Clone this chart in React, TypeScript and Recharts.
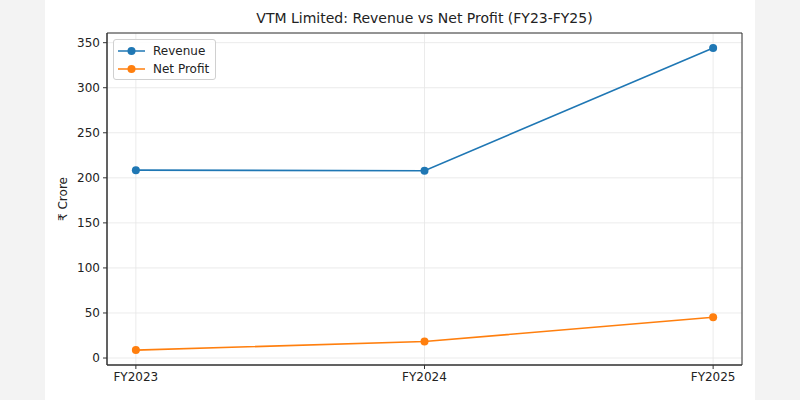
import React from "react";
import {
  LineChart,
  Line,
  XAxis,
  YAxis,
  CartesianGrid,
  ReferenceArea,
} from "recharts";

const categories = ["FY2023", "FY2024", "FY2025"];
const revenue = [208.5, 207.9, 344.2];
const netProfit = [8.8, 18.3, 45.2];
const yTicks = [0, 50, 100, 150, 200, 250, 300, 350];

const data = categories.map((c, i) => ({
  idx: i,
  name: c,
  revenue: revenue[i],
  netProfit: netProfit[i],
}));

const FONT = "'DejaVu Sans', sans-serif";
const BLUE = "#1f77b4";
const ORANGE = "#ff7f0e";

const xMin = -0.1;
const xMax = 2.1;
const yMin = -7.75;
const yMax = 360.75;

const LegendBox = () => (
  <div
    style={{
      position: "absolute",
      left: 113,
      top: 39,
      border: "1px solid #d0d0d0",
      borderRadius: 3,
      background: "rgba(255,255,255,0.85)",
      width: 103,
      height: 41,
      boxSizing: "border-box",
      fontFamily: FONT,
      fontSize: 12,
      color: "#222",
      padding: "2px 0 0 3px",
    }}
  >
    {[
      { label: "Revenue", color: BLUE },
      { label: "Net Profit", color: ORANGE },
    ].map((e) => (
      <div
        key={e.label}
        style={{ display: "flex", alignItems: "center", height: 18 }}
      >
        <svg width={30} height={12} style={{ marginRight: 6 }}>
          <line x1={1} y1={6} x2={28} y2={6} stroke={e.color} strokeWidth={1.5} />
          <circle cx={14.5} cy={6} r={4} fill={e.color} />
        </svg>
        <span>{e.label}</span>
      </div>
    ))}
  </div>
);

export default function App() {
  return (
    <div
      style={{
        position: "absolute",
        left: 0,
        top: 0,
        width: 800,
        height: 400,
        background: "#f3f3f3",
      }}
    >
      <div
        style={{
          position: "absolute",
          left: 45,
          top: 0,
          width: 710,
          height: 400,
          background: "#ffffff",
        }}
      />
      <div
        style={{
          position: "absolute",
          left: 0,
          top: 10,
          width: 849,
          textAlign: "center",
          fontFamily: FONT,
          fontSize: 14,
          color: "#222",
        }}
      >
        VTM Limited: Revenue vs Net Profit (FY23-FY25)
      </div>
      <div style={{ position: "absolute", left: 0, top: 0 }}>
        <LineChart
          width={800}
          height={400}
          data={data}
          margin={{ top: 33, right: 58, bottom: 5, left: 47 }}
        >
          <CartesianGrid stroke="#e6e6e6" strokeWidth={0.8} />
          <XAxis
            dataKey="idx"
            type="number"
            domain={[xMin, xMax]}
            ticks={[0, 1, 2]}
            tickFormatter={(v: number) => categories[v] ?? ""}
            allowDataOverflow
            height={30}
            tickSize={4}
            tickLine={{ stroke: "#333" }}
            axisLine={{ stroke: "#333" }}
            tick={{ fontFamily: FONT, fontSize: 12, fill: "#222" }}
            tickMargin={3}
          />
          <YAxis
            type="number"
            domain={[yMin, yMax]}
            ticks={yTicks}
            allowDataOverflow
            width={60}
            tickSize={4}
            tickLine={{ stroke: "#333" }}
            axisLine={{ stroke: "#333" }}
            tick={{ fontFamily: FONT, fontSize: 12, fill: "#222" }}
            tickMargin={3}
            label={{
              value: "₹ Crore",
              angle: -90,
              position: "insideLeft",
              offset: 16,
              style: {
                fontFamily: FONT,
                fontSize: 12,
                fill: "#222",
                textAnchor: "middle",
              },
            }}
          />
          <ReferenceArea
            x1={xMin}
            x2={xMax}
            y1={yMin}
            y2={yMax}
            fill="none"
            stroke="#333"
            strokeWidth={1}
            ifOverflow="visible"
          />
          <Line
            type="linear"
            dataKey="revenue"
            stroke={BLUE}
            strokeWidth={1.6}
            dot={{ r: 4, fill: BLUE, stroke: BLUE, strokeWidth: 0 }}
            activeDot={false}
            isAnimationActive={false}
          />
          <Line
            type="linear"
            dataKey="netProfit"
            stroke={ORANGE}
            strokeWidth={1.6}
            dot={{ r: 4, fill: ORANGE, stroke: ORANGE, strokeWidth: 0 }}
            activeDot={false}
            isAnimationActive={false}
          />
        </LineChart>
      </div>
      <LegendBox />
    </div>
  );
}
